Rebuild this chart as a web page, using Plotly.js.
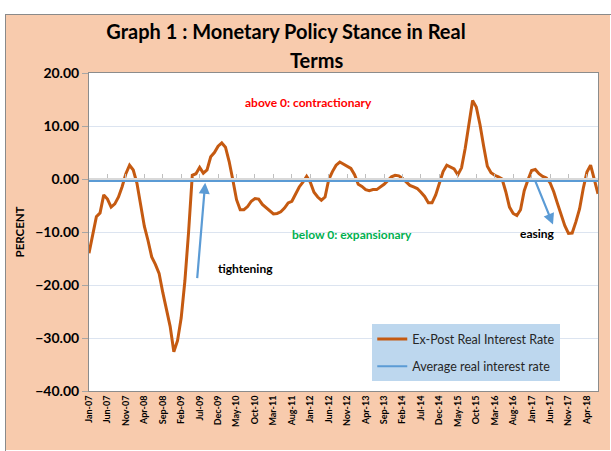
<!DOCTYPE html>
<html>
<head>
<meta charset="utf-8">
<script src="https://cdn.plot.ly/plotly-3.0.1.min.js"></script>
<style>
  html, body { margin: 0; padding: 0; background: #ffffff; }
  #chart { position: absolute; left: 5px; top: 14px; width: 606px; height: 437px;
           box-sizing: border-box; border: 1px solid #8a8a8a; border-right: none; border-bottom: none; }
</style>
</head>
<body>
<div id="chart"></div>
<script>
const months = [
  "Jan-07","Feb-07","Mar-07","Apr-07","May-07","Jun-07","Jul-07","Aug-07","Sep-07","Oct-07","Nov-07","Dec-07",
  "Jan-08","Feb-08","Mar-08","Apr-08","May-08","Jun-08","Jul-08","Aug-08","Sep-08","Oct-08","Nov-08","Dec-08",
  "Jan-09","Feb-09","Mar-09","Apr-09","May-09","Jun-09","Jul-09","Aug-09","Sep-09","Oct-09","Nov-09","Dec-09",
  "Jan-10","Feb-10","Mar-10","Apr-10","May-10","Jun-10","Jul-10","Aug-10","Sep-10","Oct-10","Nov-10","Dec-10",
  "Jan-11","Feb-11","Mar-11","Apr-11","May-11","Jun-11","Jul-11","Aug-11","Sep-11","Oct-11","Nov-11","Dec-11",
  "Jan-12","Feb-12","Mar-12","Apr-12","May-12","Jun-12","Jul-12","Aug-12","Sep-12","Oct-12","Nov-12","Dec-12",
  "Jan-13","Feb-13","Mar-13","Apr-13","May-13","Jun-13","Jul-13","Aug-13","Sep-13","Oct-13","Nov-13","Dec-13",
  "Jan-14","Feb-14","Mar-14","Apr-14","May-14","Jun-14","Jul-14","Aug-14","Sep-14","Oct-14","Nov-14","Dec-14",
  "Jan-15","Feb-15","Mar-15","Apr-15","May-15","Jun-15","Jul-15","Aug-15","Sep-15","Oct-15","Nov-15","Dec-15",
  "Jan-16","Feb-16","Mar-16","Apr-16","May-16","Jun-16","Jul-16","Aug-16","Sep-16","Oct-16","Nov-16","Dec-16",
  "Jan-17","Feb-17","Mar-17","Apr-17","May-17","Jun-17","Jul-17","Aug-17","Sep-17","Oct-17","Nov-17","Dec-17",
  "Jan-18","Feb-18","Mar-18","Apr-18","May-18","Jun-18","Jul-18"
];

const tickLabels = [
  "Jan-07","Jun-07","Nov-07","Apr-08","Sep-08","Feb-09","Jul-09","Dec-09","May-10","Oct-10",
  "Mar-11","Aug-11","Jan-12","Jun-12","Nov-12","Apr-13","Sep-13","Feb-14","Jul-14","Dec-14",
  "May-15","Oct-15","Mar-16","Aug-16","Jan-17","Jun-17","Nov-17","Apr-18"
];

const exPostRate = [
  -14.0, -10.5, -7.1, -6.4, -3.0, -3.8, -5.3, -4.7, -3.4, -1.4,
  1.0, 2.6, 1.7, -0.8, -5.0, -8.9, -11.6, -14.7, -16.1, -17.8,
  -21.4, -24.6, -27.8, -32.6, -30.5, -26.2, -19.2, -10.0, 0.7, 1.0,
  2.2, 1.1, 1.7, 4.2, 5.0, 6.2, 6.8, 6.0, 3.3, -0.2,
  -3.9, -5.8, -5.8, -5.2, -4.2, -3.7, -3.8, -4.8, -5.4, -6.0,
  -6.6, -6.5, -6.2, -5.5, -4.5, -4.2, -2.8, -1.5, -0.6, 0.5,
  -0.6, -2.5, -3.4, -4.0, -3.4, -0.1, 1.4, 2.6, 3.2, 2.8,
  2.3, 2.0, 0.8, -1.0, -1.4, -2.0, -2.2, -2.0, -2.0, -1.5,
  -1.0, -0.3, 0.4, 0.7, 0.6, 0.1, -0.6, -1.2, -1.5, -1.8,
  -2.5, -3.3, -4.5, -4.5, -3.0, -0.8, 1.4, 2.6, 2.3, 1.9,
  0.8, 2.1, 5.8, 10.7, 14.8, 13.6, 10.3, 6.2, 2.4, 1.2,
  0.7, 0.4, 0.0, -2.4, -5.3, -6.5, -6.9, -5.8, -2.2, -0.2,
  1.6, 1.8, 1.0, 0.5, 0.2, -0.7, -2.4, -4.6, -6.8, -8.8,
  -10.25, -10.2, -8.1, -5.65, -1.8, 1.3, 2.6, 0.0, -2.8
];

const averageRate = -0.4;
const averageMonths = [months[0], months[months.length - 1]];
const averageValues = [averageRate, averageRate];

const FONT = "Lato, 'Open Sans', sans-serif";

const traces = [
  {
    type: "scatter", mode: "lines", name: "Ex-Post Real Interest Rate",
    x: months, y: exPostRate, xaxis: "x", yaxis: "y",
    line: { color: "#C55A11", width: 3 },
    legendgroup: "a"
  },
  {
    type: "scatter", mode: "lines", name: "Average real interest rate",
    x: averageMonths, y: averageValues, xaxis: "x2", yaxis: "y",
    line: { color: "#5B9BD5", width: 2 },
    legendgroup: "b"
  }
];

const layout = {
  width: 604, height: 435,
  margin: { l: 83, r: 12, t: 58, b: 59 },
  paper_bgcolor: "#F8CBAD",
  plot_bgcolor: "#FFFFFF",
  font: { family: FONT, color: "#000000" },
  title: {
    text: "Graph 1 : Monetary Policy Stance in Real",
    x: 0.4636, xanchor: "center", xref: "container",
    y: 0.961, yanchor: "middle", yref: "container",
    font: { family: FONT, size: 20, weight: "bold", color: "#000000" }
  },
  showlegend: true,
  legend: {
    x: 0.5565, xanchor: "left", y: 0.2095, yanchor: "top",
    bgcolor: "#BDD7EE", borderwidth: 0,
    font: { family: FONT, size: 12.5, color: "#262626" },
    traceorder: "grouped", tracegroupgap: 8
  },
  xaxis: {
    type: "category", categoryorder: "array", categoryarray: months,
    range: [0, months.length - 1],
    tickmode: "array", tickvals: tickLabels, ticktext: tickLabels,
    tickangle: -90, ticks: "", showgrid: false, zeroline: false,
    showline: true, mirror: true, linecolor: "#8C8C8C", linewidth: 1,
    tickfont: { family: FONT, size: 9, weight: "bold", color: "#000000" }
  },
  xaxis2: {
    type: "category", categoryorder: "array", categoryarray: months,
    overlaying: "x", anchor: "free", position: 40 / 60, side: "bottom",
    range: [0, months.length - 1],
    tickmode: "array", tickvals: tickLabels, showticklabels: false,
    ticks: "inside", ticklen: 4, tickcolor: "#BFBFBF", tickwidth: 1,
    showline: true, linecolor: "#D9D9D9", linewidth: 2,
    showgrid: false, zeroline: false
  },
  yaxis: {
    range: [-40, 20], dtick: 10, tick0: 0, tickformat: ".2f",
    showgrid: true, gridcolor: "#DCE4F0", gridwidth: 1, zeroline: false,
    showline: true, mirror: true, linecolor: "#8C8C8C", linewidth: 1,
    ticks: "outside", ticklen: 6, tickcolor: "#A6A6A6",
    tickfont: { family: FONT, size: 14, weight: "bold", color: "#000000" },
    title: { text: "PERCENT", standoff: 8, font: { family: FONT, size: 11.5, weight: "bold", color: "#000000" } }
  },
  annotations: [
    { xref: "paper", yref: "paper", x: 0.446, y: 1.041, text: "Terms", showarrow: false,
      xanchor: "center", yanchor: "middle",
      font: { family: FONT, size: 20, weight: "bold", color: "#000000" } },
    { xref: "x", yref: "y", x: 59.6, y: 14.4, text: "above 0: contractionary", showarrow: false,
      font: { family: FONT, size: 12, weight: "bold", color: "#FF0000" } },
    { xref: "x", yref: "y", x: 71.4, y: -10.4, text: "below 0: expansionary", showarrow: false,
      font: { family: FONT, size: 12, weight: "bold", color: "#00B050" } },
    { xref: "x", yref: "y", x: 42.4, y: -16.9, text: "tightening", showarrow: false,
      font: { family: FONT, size: 12, weight: "bold", color: "#000000" } },
    { xref: "x", yref: "y", x: 121.6, y: -10.2, text: "easing", showarrow: false,
      font: { family: FONT, size: 12, weight: "bold", color: "#000000" } },
    { xref: "x", yref: "y", x: 31.5, y: -0.7, axref: "x", ayref: "y", ax: 29.3, ay: -19.0,
      text: "", showarrow: true, arrowhead: 2, arrowsize: 1, arrowwidth: 2.2, arrowcolor: "#5B9BD5" },
    { xref: "x", yref: "y", x: 125.8, y: -8.6, axref: "x", ayref: "y", ax: 120.9, ay: -0.2,
      text: "", showarrow: true, arrowhead: 2, arrowsize: 1, arrowwidth: 2.2, arrowcolor: "#5B9BD5" }
  ]
};

Plotly.newPlot("chart", traces, layout, { displayModeBar: false, staticPlot: true });
</script>
</body>
</html>
